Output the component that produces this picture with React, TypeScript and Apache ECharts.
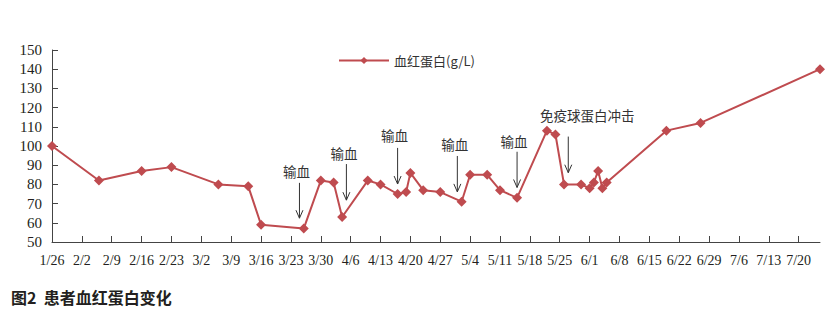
import React, { useEffect, useRef } from "react";
import * as echarts from "echarts";

// Sampling dates (M/D, same year) and haemoglobin values (g/L)
const dates = [
  "1/26", "2/6", "2/16", "2/23", "3/6", "3/13", "3/16", "3/26", "3/30", "4/2",
  "4/4", "4/10", "4/13", "4/17", "4/19", "4/20", "4/23", "4/27", "5/2", "5/4",
  "5/8", "5/11", "5/15", "5/22", "5/24", "5/26", "5/30", "6/1", "6/2", "6/3",
  "6/4", "6/5", "6/19", "6/27", "7/25",
];
const hemoglobin = [
  100, 82, 87, 89, 80, 79, 59, 57, 82, 81,
  63, 82, 80, 75, 76, 86, 77, 76, 71, 85,
  85, 77, 73, 108, 106, 80, 80, 78, 81, 87,
  78, 81, 108, 112, 140,
];
const tickLabels = [
  "1/26", "2/2", "2/9", "2/16", "2/23", "3/2", "3/9", "3/16", "3/23", "3/30",
  "4/6", "4/13", "4/20", "4/27", "5/4", "5/11", "5/18", "5/25", "6/1", "6/8",
  "6/15", "6/22", "6/29", "7/6", "7/13", "7/20",
];
const axisEndDate = "7/25";
const yMin = 50;
const yMax = 150;
const yStep = 10;
const seriesName = "血红蛋白(g/L)";
const chartTitle = "图2  患者血红蛋白变化";

// Annotations: label, date, arrow top value, arrow bottom value
const annotations = [
  { label: "输血", date: "3/25", top: 80.8, bottom: 62.4, dx: -3, dy: 12 },
  { label: "输血", date: "4/5", top: 90.6, bottom: 71.8, dx: -2.5, dy: 11.5 },
  { label: "输血", date: "4/17", top: 99.0, bottom: 80.2, dx: -3, dy: 12.5 },
  { label: "输血", date: "5/1", top: 94.8, bottom: 76.1, dx: -2.5, dy: 11.5 },
  { label: "输血", date: "5/15", top: 97.0, bottom: 78.4, dx: -3, dy: 11 },
  { label: "免疫球蛋白冲击", date: "5/27", top: 104.9, bottom: 86.1, dx: 19, dy: 21.5 },
];

const YEAR = 2021;
const BASE = Date.UTC(YEAR, 0, 26);
const DAY = 86400000;
const dayOf = (s: string) => {
  const [m, d] = s.split("/").map(Number);
  return Math.round((Date.UTC(YEAR, m - 1, d) - BASE) / DAY);
};
const labelOf = (v: number) => {
  const dt = new Date(BASE + Math.round(v) * DAY);
  return `${dt.getUTCMonth() + 1}/${dt.getUTCDate()}`;
};

const LINE_COLOR = "#bf4b4f";
const SERIF = "'Liberation Serif', 'Times New Roman', serif";
const CJK = "'Noto Sans CJK SC', 'Noto Sans', sans-serif";

export default function App() {
  const ref = useRef<HTMLDivElement>(null);
  useEffect(() => {
    if (!ref.current) return;
    const chart = echarts.init(ref.current, undefined, { renderer: "svg" });
    const tickValues = tickLabels.map(dayOf);
    chart.setOption({
      animation: false,
      backgroundColor: "#ffffff",
      title: {
        text: chartTitle,
        left: 6,
        top: 284,
        textStyle: {
          fontFamily: CJK,
          fontSize: 16,
          fontWeight: "bold",
          color: "#231f20",
        },
      },
      legend: {
        data: [seriesName],
        left: 333,
        top: 49,
        itemWidth: 50,
        itemHeight: 9,
        itemGap: 8,
        textStyle: {
          fontFamily: CJK,
          fontSize: 13,
          color: "#333",
        },
      },
      grid: { left: 52, right: 16, top: 50, bottom: 78 },
      xAxis: {
        type: "value",
        min: 0,
        max: dayOf(axisEndDate),
        splitLine: { show: false },
        axisLine: { lineStyle: { color: "#444", width: 1 } },
        axisTick: {
          inside: true,
          length: 6,
          customValues: tickValues,
          lineStyle: { color: "#444" },
        },
        axisLabel: {
          customValues: tickValues,
          formatter: (v: number) => labelOf(v),
          margin: 11,
          fontFamily: SERIF,
          fontSize: 14,
          color: "#231f20",
        },
      },
      yAxis: {
        type: "value",
        min: yMin,
        max: yMax,
        interval: yStep,
        splitLine: { show: false },
        axisLine: { show: true, lineStyle: { color: "#444", width: 1 } },
        axisTick: { show: true, inside: true, length: 6, lineStyle: { color: "#444" } },
        axisLabel: {
          margin: 10,
          fontFamily: SERIF,
          fontSize: 15,
          color: "#231f20",
        },
      },
      series: [
        {
          name: seriesName,
          type: "line",
          data: dates.map((d, i) => [dayOf(d), hemoglobin[i]]),
          symbol: "diamond",
          symbolSize: 10,
          showAllSymbol: true,
          lineStyle: { color: LINE_COLOR, width: 2 },
          itemStyle: { color: LINE_COLOR },
        },
      ],
    });

    const graphics: any[] = [];
    annotations.forEach((a) => {
      const x0 = dayOf(a.date);
      const [x, yTop] = chart.convertToPixel({ xAxisIndex: 0, yAxisIndex: 0 }, [x0, a.top]) as number[];
      const [, yBot] = chart.convertToPixel({ xAxisIndex: 0, yAxisIndex: 0 }, [x0, a.bottom]) as number[];
      graphics.push({
        type: "line",
        shape: { x1: x, y1: yTop, x2: x, y2: yBot },
        style: { stroke: "#333", lineWidth: 1 },
      });
      graphics.push({
        type: "polyline",
        shape: { points: [[x - 3.5, yBot - 8], [x, yBot], [x + 3.5, yBot - 8]] },
        style: { stroke: "#333", fill: null, lineWidth: 1 },
      });
      graphics.push({
        type: "text",
        x: x + a.dx,
        y: yTop - a.dy,
        style: {
          text: a.label,
          align: "center",
          verticalAlign: "middle",
          fontFamily: CJK,
          fontSize: 13.5,
          fill: "#333",
        },
      });
    });
    chart.setOption({ graphic: graphics });

    return () => chart.dispose();
  }, []);
  return (
    <div
      ref={ref}
      style={{ position: "fixed", left: 0, top: 0, width: 836, height: 320 }}
    />
  );
}
